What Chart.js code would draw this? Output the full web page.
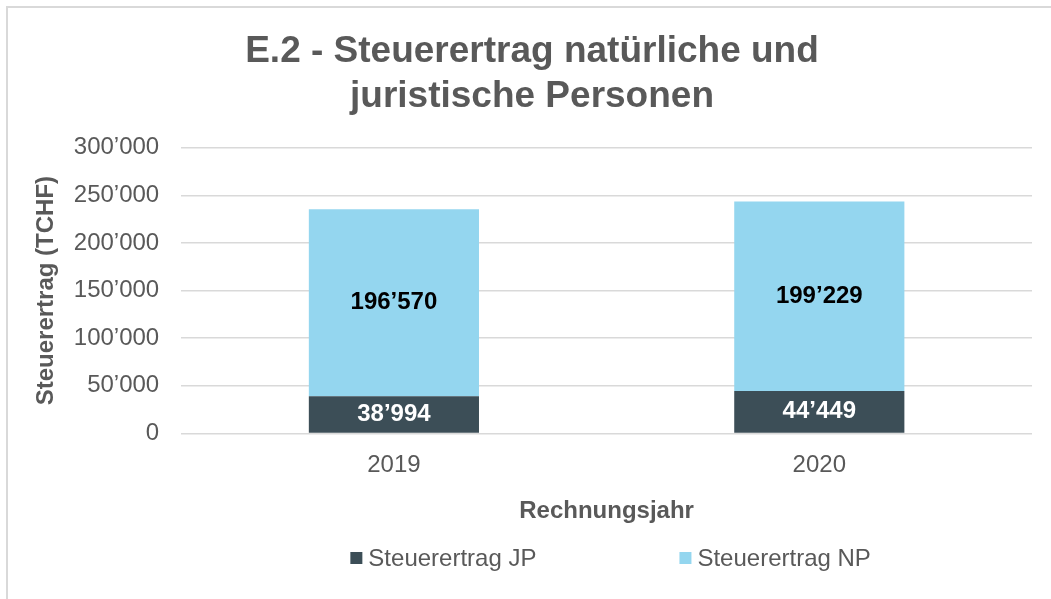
<!DOCTYPE html>
<html>
<head>
<meta charset="utf-8">
<title>E.2 - Steuerertrag</title>
<script src="https://cdn.jsdelivr.net/npm/chart.js@4.4.1/dist/chart.umd.min.js"></script>
<style>
  html, body { margin: 0; padding: 0; background: #fff; overflow: hidden; }
  #wrap { position: relative; width: 1051px; height: 599px; overflow: hidden; }
  #frame { position: absolute; left: 6px; top: 6px; width: 1100px; height: 650px; border: 2px solid #d9d9d9; pointer-events: none; }
</style>
</head>
<body>
<div id="wrap">
  <canvas id="chart" width="1051" height="599"></canvas>
  <div id="frame"></div>
</div>
<script>
// Daten
const years = ['2019', '2020'];
const steuerJP = [38994, 44449];
const steuerNP = [196570, 199229];
const seriesNames = ['Steuerertrag JP', 'Steuerertrag NP'];
const yTicks = [0, 50000, 100000, 150000, 200000, 250000, 300000];

const colJP = '#3c4e57';
const colNP = '#94d6ef';
const textGrey = '#595959';
const fontFam = '"Liberation Sans", Arial, sans-serif';

// 300000 -> 300’000
function formatNum(v) {
    return String(v).replace(/\B(?=(\d{3})+(?!\d))/g, '\u2019');
}

// Werte in die Balken schreiben
const valueLabels = {
    id: 'valueLabels',
    afterDatasetsDraw(chart) {
        const ctx = chart.ctx;
        ctx.save();
        ctx.font = 'bold 24px ' + fontFam;
        ctx.textAlign = 'center';
        ctx.textBaseline = 'middle';
        chart.data.datasets.forEach((ds, i) => {
            const meta = chart.getDatasetMeta(i);
            ctx.fillStyle = i === 0 ? '#ffffff' : '#000000';
            meta.data.forEach((bar, j) => {
                ctx.fillText(formatNum(ds.data[j]), bar.x, (bar.y + bar.base) / 2);
            });
        });
        ctx.restore();
    }
};

// Legende unten, zentriert über der Zeichenfläche
const bottomLegend = {
    id: 'bottomLegend',
    afterDraw(chart) {
        const ctx = chart.ctx;
        const box = 12, gap = 6, itemGap = 143;
        ctx.save();
        ctx.font = '24px ' + fontFam;
        ctx.textBaseline = 'middle';
        const widths = chart.data.datasets.map(ds => box + gap + ctx.measureText(ds.label).width);
        const total = widths.reduce((a, b) => a + b, 0) + itemGap * (widths.length - 1);
        let x = (chart.chartArea.left + chart.chartArea.right) / 2 - total / 2 + 4;
        const y = chart.height - 41;
        chart.data.datasets.forEach((ds, i) => {
            ctx.fillStyle = ds.backgroundColor;
            ctx.fillRect(x, y - box / 2, box, box);
            ctx.fillStyle = textGrey;
            ctx.fillText(ds.label, x + box + gap, y + 1);
            x += widths[i] + itemGap;
        });
        ctx.restore();
    }
};

const ctx = document.getElementById('chart').getContext('2d');
const chart = new Chart(ctx, {
    type: 'bar',
    data: {
        labels: years,
        datasets: [
            { label: seriesNames[0], data: steuerJP, backgroundColor: colJP },
            { label: seriesNames[1], data: steuerNP, backgroundColor: colNP }
        ]
    },
    options: {
        responsive: false,
        animation: false,
        barPercentage: 0.4,
        categoryPercentage: 1,
        layout: { padding: { top: 18, left: 32, right: 19, bottom: 73 } },
        plugins: {
            legend: { display: false },
            tooltip: { enabled: false },
            title: {
                display: true,
                text: ['E.2 - Steuerertrag natürliche und', 'juristische Personen'],
                color: textGrey,
                font: { family: fontFam, size: 37, weight: 'bold', lineHeight: 1.2 },
                padding: { top: 12, bottom: 29 }
            }
        },
        scales: {
            x: {
                stacked: true,
                grid: { display: false },
                border: { display: false },
                ticks: { color: textGrey, padding: 10, font: { family: fontFam, size: 24 } },
                title: {
                    display: true,
                    text: 'Rechnungsjahr',
                    color: textGrey,
                    font: { family: fontFam, size: 24, weight: 'bold' },
                    padding: { top: 7, bottom: 0 }
                }
            },
            y: {
                stacked: true,
                min: 0,
                max: 300000,
                afterBuildTicks: axis => { axis.ticks = yTicks.map(v => ({ value: v })); },
                afterFit: axis => { axis.width -= 9; },
                grid: { color: '#d9d9d9', lineWidth: 1.5, drawTicks: false },
                border: { display: false },
                ticks: {
                    color: textGrey,
                    padding: 22,
                    font: { family: fontFam, size: 24 },
                    callback: v => formatNum(v)
                },
                title: {
                    display: true,
                    text: 'Steuerertrag (TCHF)',
                    color: textGrey,
                    font: { family: fontFam, size: 24, weight: 'bold' },
                    padding: { top: 0, bottom: 0 }
                }
            }
        }
    },
    plugins: [valueLabels, bottomLegend]
});
</script>
</body>
</html>
